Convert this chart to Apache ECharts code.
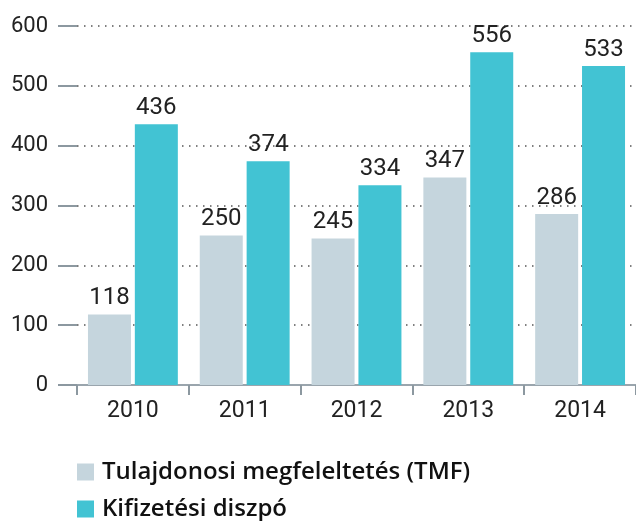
<!DOCTYPE html>
<html><head><meta charset="utf-8">
<script src="https://cdn.jsdelivr.net/npm/echarts@6/dist/echarts.min.js"></script>
<style>html,body{margin:0;padding:0;background:#fff}#c{width:636px;height:521px}</style>
</head><body><div id="c"></div>
<script>
const categories = ['2010','2011','2012','2013','2014'];
const tmfValues = [118, 250, 245, 347, 286];
const kifizValues = [436, 374, 334, 556, 533];
const seriesNames = ['Tulajdonosi megfeleltetés (TMF)', 'Kifizetési diszpó'];
const yTicks = [0, 100, 200, 300, 400, 500, 600];

const font = 'Roboto, "DejaVu Sans", sans-serif';
const chart = echarts.init(document.getElementById('c'), null, {renderer:'canvas'});
const labelStyle = {show:true, position:'top', distance:4, fontSize:24, color:'#222', fontFamily:font};
const legendBase = {
  orient:'vertical', left:77, itemWidth:17, itemHeight:17, icon:'rect', padding:0,
  textStyle:{fontSize:24, fontWeight:600, color:'#111', fontFamily:'"Open Sans", Roboto, sans-serif', padding:[0,0,0,3]}
};
chart.setOption({
  animation:false,
  grid:{left:77, top:26, width:568, height:359},
  legend:[
    Object.assign({}, legendBase, {top:460, data:[seriesNames[0]]}),
    Object.assign({}, legendBase, {top:497, data:[seriesNames[1]]})
  ],
  xAxis:{
    type:'category', data:categories,
    axisLine:{lineStyle:{color:'#9aa5ad', width:2}},
    axisTick:{show:true, length:10, lineStyle:{color:'#8c98a0', width:2}},
    axisLabel:{fontSize:23, color:'#222', fontFamily:font, margin:15}
  },
  yAxis:{
    type:'value', min:yTicks[0], max:yTicks[yTicks.length-1], interval:100,
    axisLine:{show:false},
    axisTick:{show:true, length:19, lineStyle:{color:'#8c98a0', width:2}},
    axisLabel:{fontSize:22, color:'#222', fontFamily:font, margin:29},
    splitLine:{show:true, lineStyle:{color:'#555', width:1.5, type:[1.5,5.5]}}
  },
  series:[
    {name:seriesNames[0], type:'bar', data:tmfValues, barWidth:43, barGap:'9%',
     itemStyle:{color:'#c5d5dd'}, label:labelStyle},
    {name:seriesNames[1], type:'bar', data:kifizValues, barWidth:43, barGap:'9%',
     itemStyle:{color:'#42c3d3'}, label:labelStyle}
  ]
});
</script></body></html>
